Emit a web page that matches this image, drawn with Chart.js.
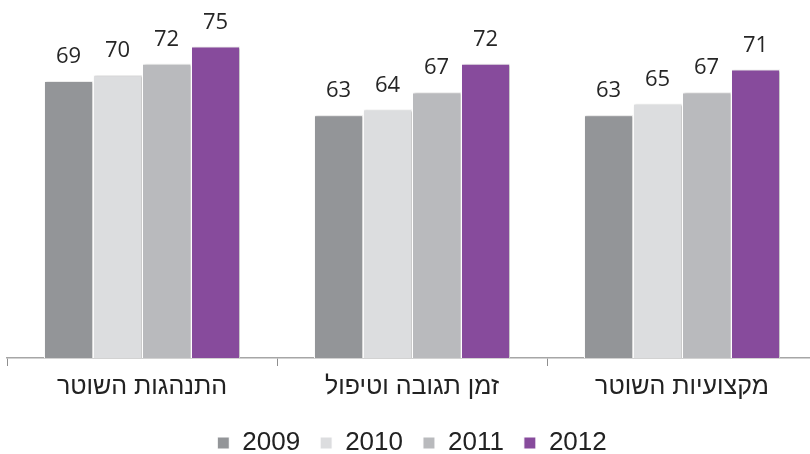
<!DOCTYPE html>
<html>
<head>
<meta charset="utf-8">
<script src="https://cdn.jsdelivr.net/npm/chart.js@4/dist/chart.umd.min.js"></script>
<style>
    html, body { margin: 0; padding: 0; background: #fff; overflow: hidden; }
    #wrap { width: 818px; height: 466px; }
</style>
</head>
<body>
<div id="wrap"><canvas id="chart" width="818" height="466"></canvas></div>
<script>
// --- data ---
const categories = ['התנהגות השוטר', 'זמן תגובה וטיפול', 'מקצועיות השוטר'];
const years = ['2009', '2010', '2011', '2012'];
const values2009 = [69, 63, 63];
const values2010 = [70, 64, 65];
const values2011 = [72, 67, 67];
const values2012 = [75, 72, 71];
const seriesColors = ['#939598', '#dcdddf', '#b9babd', '#874b9c'];

const allValues = [values2009, values2010, values2011, values2012];

const LABEL_FONT = '"Open Sans", sans-serif';
const AXIS_FONT = '"Liberation Sans", Arial, sans-serif';

// soft shadow behind the bars, like the office chart
const barShadow = {
    id: 'barShadow',
    beforeDatasetsDraw(chart) {
        const ctx = chart.ctx;
        ctx.save();
        ctx.shadowColor = 'rgba(0, 0, 0, 0.22)';
        ctx.shadowBlur = 2;
        ctx.shadowOffsetX = 1.5;
        ctx.shadowOffsetY = 0;
    },
    afterDatasetsDraw(chart) {
        chart.ctx.restore();
    }
};

// value labels above every bar
const valueLabels = {
    id: 'valueLabels',
    afterDatasetsDraw(chart) {
        const ctx = chart.ctx;
        ctx.save();
        ctx.font = '22px ' + LABEL_FONT;
        ctx.fillStyle = '#262626';
        ctx.textAlign = 'center';
        ctx.textBaseline = 'alphabetic';
        chart.data.datasets.forEach((ds, i) => {
            const meta = chart.getDatasetMeta(i);
            meta.data.forEach((bar, j) => {
                ctx.fillText(String(ds.data[j]), bar.x, bar.y - 18);
            });
        });
        ctx.restore();
    }
};

const drawChart = () => {
    const ctx = document.getElementById('chart').getContext('2d');
    new Chart(ctx, {
        type: 'bar',
        data: {
            labels: categories,
            datasets: years.map((y, i) => ({
                label: y,
                data: allValues[i],
                backgroundColor: seriesColors[i],
                borderColor: '#ffffff',
                borderWidth: 1,
                borderSkipped: 'bottom',
                barPercentage: 1,
                categoryPercentage: 0.726
            }))
        },
        options: {
            responsive: false,
            animation: false,
            layout: { padding: { left: 7, right: 1, top: 18, bottom: 0 } },
            scales: {
                x: {
                    grid: {
                        display: true,
                        drawOnChartArea: false,
                        drawTicks: true,
                        tickLength: 8,
                        color: '#8f8f8f',
                        offset: true
                    },
                    border: { display: true, color: '#a6a6a6', width: 1.5 },
                    ticks: {
                        color: '#222222',
                        padding: 6,
                        font: { family: AXIS_FONT, size: 25 }
                    },
                    afterFit(scale) {
                        scale.height += 2;
                    }
                },
                y: {
                    display: false,
                    min: 20.6,
                    max: 80
                }
            },
            plugins: {
                legend: {
                    position: 'bottom',
                    labels: {
                        boxWidth: 12,
                        boxHeight: 12,
                        padding: 20,
                        color: '#222222',
                        font: { family: AXIS_FONT, size: 26 }
                    }
                },
                tooltip: { enabled: false }
            }
        },
        plugins: [barShadow, valueLabels]
    });
};

// make sure the installed fonts are ready before drawing
Promise.all([
    document.fonts.load('22px ' + LABEL_FONT, '0123456789'),
    document.fonts.load('25px ' + AXIS_FONT, 'התנהגות השוטר 2009')
]).catch(() => {}).then(drawChart);
</script>
</body>
</html>
